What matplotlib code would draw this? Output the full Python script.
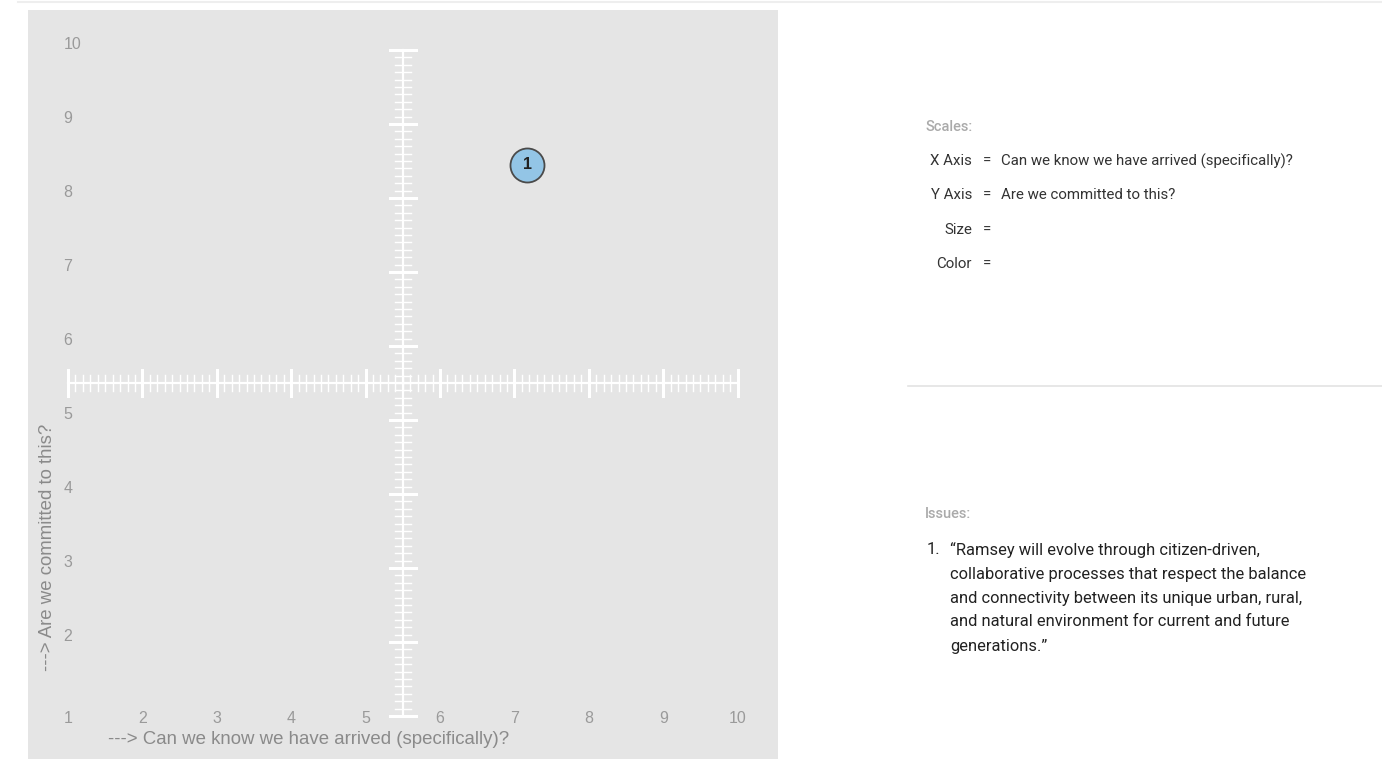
import numpy as np
import matplotlib.pyplot as plt
from matplotlib.lines import Line2D

# data
x_ticks = list(range(1, 11))
y_ticks = list(range(1, 11))
bubble_x = [7.17]
bubble_y = [8.45]
bubble_labels = ["1"]
cross_x = 5.5
cross_y = 5.5

x_title = "---> Can we know we have arrived (specifically)?"
y_title = "---> Are we committed to this?"
scale_names = ["X Axis", "Y Axis", "Size", "Color"]
scale_values = ["Can we know we have arrived (specifically)?", "Are we committed to this?", "", ""]
issue_lines = ["\u201cRamsey will evolve through citizen-driven,",
               "collaborative processes that respect the balance",
               "and connectivity between its unique urban, rural,",
               "and natural environment for current and future",
               "generations.\u201d"]

W, H = 1382, 759
fig = plt.figure(figsize=(W / 100, H / 100), dpi=100)
fig.patch.set_facecolor("white")

# grey chart panel
ax = fig.add_axes([28 / W, 0, 750 / W, 749 / H])
ax.set_facecolor("#e5e5e5")
ax.set_xlim(0.4624, 10.543)
ax.set_ylim(0.419, 10.54)
for s in ax.spines.values():
    s.set_visible(False)
ax.set_xticks([])
ax.set_yticks([])

lbl_font = dict(family="Liberation Sans", color="#9a9a9a", fontsize=11.5)

# tick labels drawn inside the panel
for v in y_ticks[1:]:
    ax.text(0.94, v + 0.07, str(v), ha="left", va="center", **lbl_font)
for v in x_ticks:
    ax.text(v, 0.96, str(v), ha="center", va="center", **lbl_font)

ax.text(4.24, 0.68, x_title, ha="center", va="center", family="Liberation Sans",
        color="#8a8a8a", fontsize=13.4)
ax.text(0.73, 3.28, y_title, ha="center", va="center", rotation=90,
        family="Liberation Sans", color="#8a8a8a", fontsize=13.4)

# the cross with ruler ticks
wc = "white"
ax.plot([x_ticks[0], x_ticks[-1]], [cross_y, cross_y], color=wc, lw=1.6, zorder=2)
ax.plot([cross_x, cross_x], [y_ticks[0], y_ticks[-1]], color=wc, lw=1.6, zorder=2)
minor = np.arange(10, 101) / 10.0
for m in minor:
    is_major = abs(m - round(m)) < 1e-9
    hx = 0.175 if is_major else 0.11
    hy = 0.175 if is_major else 0.11
    lw = 2.2 if is_major else 1.0
    ax.plot([m, m], [cross_y - hy, cross_y + hy], color=wc, lw=lw, zorder=2)
    ax.plot([cross_x - hx, cross_x + hx], [m, m], color=wc, lw=lw, zorder=2)

# bubble
ax.scatter(bubble_x, bubble_y, s=600, color="#93c5e6", edgecolors="#4a4a4a",
           linewidths=1.3, zorder=4)
for bx, by, bl in zip(bubble_x, bubble_y, bubble_labels):
    ax.text(bx, by, bl, ha="center", va="center", fontsize=11.5, fontweight="bold",
            color="#222222", family="Liberation Sans", zorder=5)


def px(x, y):
    return x / W, 1 - y / H


# top rule and divider
fig.add_artist(Line2D([18 / W, 1], [1 - 1.5 / H] * 2, color="#eeeeee", lw=1.5))
fig.add_artist(Line2D([908 / W, 1], [1 - 386 / H] * 2, color="#e3e3e3", lw=1.2))

# scales panel
fig.text(*px(925, 127), "Scales:", ha="left", va="center", family="Roboto",
         fontsize=10.5, color="#aaaaaa", fontweight="medium")
for i, (n, v) in enumerate(zip(scale_names, scale_values)):
    yy = 161 + i * 34.3
    fig.text(*px(972, yy), n, ha="right", va="center", family="Roboto",
             fontsize=10.8, color="#333333")
    fig.text(*px(987, yy), "=", ha="center", va="center", family="Roboto",
             fontsize=10.8, color="#333333")
    fig.text(*px(1001, yy), v, ha="left", va="center", family="Roboto",
             fontsize=10.8, color="#333333")

# issues panel
fig.text(*px(925, 514), "Issues:", ha="left", va="center", family="Roboto",
         fontsize=10.5, color="#aaaaaa", fontweight="medium")
fig.text(*px(927, 550), "1.", ha="left", va="center", family="Roboto",
         fontsize=11.9, color="#222222")
for i, line in enumerate(issue_lines):
    fig.text(*px(950, 550 + i * 24), line, ha="left", va="center",
             family="Roboto", fontsize=11.9, color="#222222")

fig.savefig("out.png", dpi=100, facecolor="white")
